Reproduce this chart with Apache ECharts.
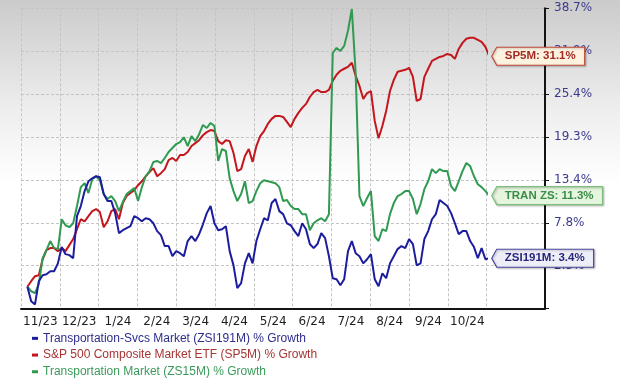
<!DOCTYPE html>
<html>
<head>
<meta charset="utf-8">
<script src="https://cdn.jsdelivr.net/npm/echarts@6/dist/echarts.min.js"></script>
<style>
html,body{margin:0;padding:0;}
body{width:620px;height:385px;background:linear-gradient(to bottom,#cbcbcb 0px,#dedede 60px,#eeeeee 110px,#fbfbfb 165px,#ffffff 185px);}
#c{width:620px;height:385px;}
</style>
</head>
<body>
<div id="c"></div>
<script>
// ---- data ----
const months = ['11/23','12/23','1/24','2/24','3/24','4/24','5/24','6/24','7/24','8/24','9/24','10/24'];
const tickLabels = ['2.5%','7.8%','13.4%','19.3%','25.4%','31.9%','38.7%'];
const tickValues = [2.5, 7.8, 13.4, 19.3, 25.4, 31.9, 38.7];
const startDate = [2023, 10, 6];   // 6 Nov 2023 (month 0-based)
const stepDays = 3;
const seriesNames = [
  'Transportation-Svcs Market (ZSI191M) % Growth',
  'S&P 500 Composite Market ETF (SP5M) % Growth',
  'Transportation Market (ZS15M) % Growth'
];
const shortNames = ['ZSI191M', 'SP5M', 'TRAN ZS'];

const zsi191m = [0,-1.70,-2.06,0.65,1.36,1.48,1.83,1.83,2.78,4.77,3.90,3.78,3.40,8.64,9.94,11.89,13.19,13.59,13.86,13.73,
11.50,10.59,10.59,9.03,6.50,6.87,7.12,7.37,8.64,8.38,7.99,8.38,8.25,7.74,6.75,6.25,4.89,4.89,3.65,4.27,
4.02,3.65,5.51,6.13,5.51,6.37,7.61,9.03,9.94,7.74,6.87,6.99,7.37,4.27,2.54,-0.17,0.42,2.78,4.02,2.78,
5.51,6.99,8.38,8.12,10.33,10.85,9.29,8.90,7.74,7.49,6.75,6.13,7.74,6.99,5.14,4.64,5.14,6.50,5.88,3.65,
1.00,0.89,0.18,0.89,4.27,5.51,4.02,3.65,2.78,3.28,3.90,0.89,0.06,1.59,1.00,2.78,3.65,4.52,4.89,4.64,
5.76,5.14,2.54,2.78,5.76,6.75,8.25,8.90,10.72,10.33,9.94,9.03,7.74,6.37,6.75,6.75,5.51,4.77,3.40,4.64,
3.28,3.40];
const sp5m = [0,0.65,1.24,1.36,3.28,4.39,4.64,4.64,4.27,4.64,4.27,5.01,5.76,6.99,8.25,7.99,8.64,9.29,9.55,9.16,
7.24,7.99,9.29,9.55,8.25,10.33,11.24,11.63,12.02,12.67,13.19,13.86,14.41,14.96,13.86,14.27,14.82,16.05,16.33,15.92,
16.74,16.74,17.15,17.97,18.38,18.79,19.49,19.92,20.21,20.07,18.66,18.25,18.79,18.66,17.01,14.55,14.82,16.60,17.56,15.78,
17.97,19.35,20.07,21.08,21.80,22.23,22.23,22.08,21.36,20.64,21.80,22.66,23.38,23.96,24.97,25.70,26.01,25.70,25.70,26.01,
27.37,28.28,28.88,29.19,29.49,30.10,28.13,26.61,24.68,25.55,25.85,21.51,19.06,20.79,22.95,25.85,27.52,28.73,28.88,29.03,
29.34,27.97,24.39,24.68,27.97,29.19,30.40,30.70,31.00,31.15,31.46,31.30,30.70,32.23,33.18,33.82,33.98,33.98,33.66,33.34,
32.55,31.10];
const zs15m = [0,-0.53,-0.76,0.30,3.40,4.39,5.51,4.64,4.52,8.25,7.49,7.24,7.74,9.94,12.41,12.93,11.63,13.45,13.86,13.32,
11.50,10.85,11.24,10.59,9.29,10.46,11.50,11.89,12.28,10.59,12.41,13.86,14.55,15.78,15.92,15.64,16.33,17.15,17.70,18.25,
18.52,19.20,17.97,19.35,18.66,19.63,20.93,20.50,21.22,20.79,15.92,17.56,17.29,13.59,11.89,10.59,11.50,13.19,10.33,10.59,
11.89,12.93,13.32,13.19,13.06,12.93,12.41,10.59,10.72,9.94,9.55,9.55,8.90,8.90,6.87,7.74,8.12,8.38,7.99,8.90,
31.60,32.39,31.91,32.71,35.09,38.59,28.58,11.24,9.94,10.98,11.89,6.13,5.51,6.99,6.75,8.90,10.33,11.24,11.50,11.89,
11.89,10.85,8.90,10.20,12.15,13.19,14.82,14.27,14.82,14.55,14.55,12.54,11.89,13.19,14.55,15.64,15.23,13.86,12.80,12.41,
11.89,11.30];

// ---- scale helpers (log-growth axis: ticks equally spaced in ln(1+g)) ----
const base = 1 + tickValues[0] / 100;
const lnStep = Math.log((1 + tickValues[tickValues.length - 1] / 100) / base) / (tickValues.length - 1);
const toK = g => Math.log((1 + g / 100) / base) / lnStep;
const DAY = 86400000;
const t0 = Date.UTC(startDate[0], startDate[1], startDate[2]);
const xMin = Date.UTC(2023, 10, 1), xMax = Date.UTC(2024, 10, 1);
const times = zsi191m.map((_, i) => t0 + i * stepDays * DAY);

const colors = ['#1c1c9e', '#c4161c', '#2f9a50'];
const textColors = ['#2d2d8c', '#a83434', '#3a9a5a'];
const boxFill = ['#eeeef9', '#fdf2df', '#e6f5de'];
const boxBorder = ['#4a4a9a', '#c04a3a', '#7cbf7c'];
const boxText = ['#26267a', '#a02c24', '#3a8c48'];
const allData = [zsi191m, sp5m, zs15m];

const chart = echarts.init(document.getElementById('c'), null, {renderer: 'canvas'});
const GT = 8.3, GB = 385 - 308.6;
const option = {
  animation: false,
  backgroundColor: 'transparent',
  grid: [
    {left: 21, right: 75, top: GT, bottom: GB, containLabel: false},
    {left: 21, right: 620 - 486.7, top: GT, bottom: GB, containLabel: false}
  ],
  xAxis: [
    {type: 'category', gridIndex: 1, data: months, boundaryGap: true,
     axisLine: {show: false}, axisTick: {show: false},
     axisLabel: {color: '#1e1e1e', fontFamily: 'DejaVu Sans', fontSize: 12, margin: 7, interval: 0},
     splitLine: {show: true, lineStyle: {color: '#c4c4c4', type: [3, 2], width: 1}}},
    {type: 'time', gridIndex: 1, min: xMin, max: xMax, show: false},
    {type: 'value', gridIndex: 0, min: 0, max: 1, axisLine: {show: true, onZero: false, lineStyle: {color: '#141414', width: 2}},
     axisTick: {show: false}, axisLabel: {show: false}, splitLine: {show: false}}
  ],
  yAxis: [
    {type: 'value', gridIndex: 0, position: 'right', min: -1, max: 6, interval: 1,
     axisLine: {show: true, onZero: false, lineStyle: {color: '#141414', width: 2}},
     axisTick: {show: true, inside: false, length: 4, lineStyle: {color: '#141414'}},
     axisLabel: {margin: 9, color: '#3a3a8e', fontFamily: 'DejaVu Sans', fontSize: 12,
       formatter: v => { const k = Math.round(v); return (Math.abs(v - k) < 1e-6 && k >= 0 && k < tickLabels.length) ? tickLabels[k] : ''; }},
     splitLine: {show: true, lineStyle: {color: '#c4c4c4', type: [3, 2], width: 1}}},
    {type: 'value', gridIndex: 1, min: -1, max: 6, interval: 1, show: false, splitLine: {show: false},
     axisLine: {onZero: false}}
  ],
  legend: {
    orient: 'vertical', left: 32, top: 330, height: 70, itemGap: 0, itemWidth: 6, itemHeight: 3, icon: 'rect',
    padding: 0, selectedMode: false,
    textStyle: {fontFamily: 'Liberation Sans', fontSize: 12, lineHeight: 16.7},
    data: seriesNames.map((n, i) => ({name: n, textStyle: {color: textColors[i]}}))
  },
  series: [1, 2, 0].map(i => ({
    name: seriesNames[i], type: 'line', xAxisIndex: 1, yAxisIndex: 1,
    showSymbol: false, symbol: 'none', clip: false,
    lineStyle: {color: colors[i], width: 2}, itemStyle: {color: colors[i]},
    data: times.map((t, j) => [t, toK(allData[i][j])])
  }))
};
chart.setOption(option);

// ---- end callouts positioned from the last data point ----
const ctx = document.createElement('canvas').getContext('2d');
const calloutFont = 'bold 11.5px "Liberation Sans"';
ctx.font = calloutFont;
const elements = [];
allData.forEach((arr, i) => {
  const last = arr[arr.length - 1];
  const p = chart.convertToPixel({xAxisIndex: 1, yAxisIndex: 1}, [times[times.length - 1], toK(last)]);
  const txt = shortNames[i] + ': ' + last.toFixed(1) + '%';
  const w = ctx.measureText(txt).width;
  const tipX = p[0] + 2.5, py = p[1];
  const bl = tipX + 5, h = 18, top = py - h / 2, br = bl + 8 + w + 9;
  elements.push({
    type: 'polygon', z: 100,
    shape: {points: [[tipX, py], [bl, top], [br, top], [br, top + h], [bl, top + h]]},
    style: {fill: boxFill[i], stroke: boxBorder[i], lineWidth: 1.2,
            shadowBlur: 2, shadowOffsetX: 1, shadowOffsetY: 1, shadowColor: 'rgba(0,0,0,0.25)'}
  });
  elements.push({
    type: 'text', z: 101, x: bl + 8, y: py,
    style: {text: txt, font: calloutFont, fill: boxText[i], verticalAlign: 'middle', align: 'left'}
  });
});
chart.setOption({graphic: {elements: elements}});
</script>
</body>
</html>
